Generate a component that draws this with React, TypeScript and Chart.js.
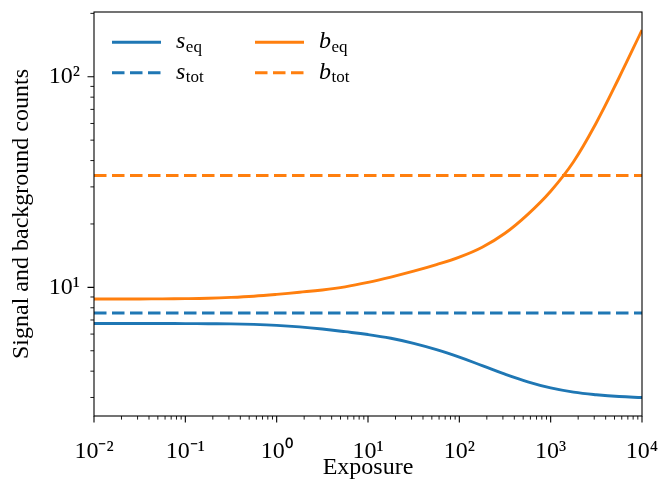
import React, { useEffect, useRef } from 'react';
import { Chart, registerables } from 'chart.js';

Chart.register(...registerables);

// ---- data ----
const exposure = [
  0.01, 0.0178, 0.0316, 0.0562, 0.1, 0.178, 0.316, 0.562, 1, 1.78, 3.16, 5.62, 10,
  17.8, 31.6, 56.2, 100, 178, 316, 562, 1000, 1780, 3160, 5620, 10000,
];
const sEq = [
  6.74, 6.74, 6.74, 6.74, 6.73, 6.72, 6.71, 6.67, 6.6, 6.49, 6.34, 6.16, 5.97,
  5.73, 5.42, 5.06, 4.66, 4.25, 3.87, 3.56, 3.33, 3.18, 3.09, 3.03, 3.0,
];
const bEq = [
  8.8, 8.8, 8.81, 8.82, 8.84, 8.88, 8.96, 9.08, 9.26, 9.48, 9.72, 10.06, 10.56,
  11.19, 11.93, 12.82, 13.92, 15.51, 18.06, 22.22, 28.62, 39.5, 60.5, 99.2, 166.7,
];
const sTotValue = 7.55;
const bTotValue = 34.0;
const xRange = [0.01, 10000];
const yRange = [2.45, 203];
const xMajorTicks = [0.01, 0.1, 1, 10, 100, 1000, 10000];
const xTickLabels = ['10⁻²', '10⁻¹', '10⁰', '10¹', '10²', '10³', '10⁴'];
const yMajorTicks = [10, 100];
const yTickLabels = ['10¹', '10²'];
const xTitle = 'Exposure';
const yTitle = 'Signal and background counts';

const BLUE = '#1f77b4';
const ORANGE = '#ff7f0e';
const DASH = [12.5, 5.5];
const FONT = '"Liberation Serif", "Times New Roman", serif';

const legendItems = [
  { main: 's', sub: 'eq', color: BLUE, dash: [] as number[], col: 0, row: 0 },
  { main: 's', sub: 'tot', color: BLUE, dash: DASH, col: 0, row: 1 },
  { main: 'b', sub: 'eq', color: ORANGE, dash: [] as number[], col: 1, row: 0 },
  { main: 'b', sub: 'tot', color: ORANGE, dash: DASH, col: 1, row: 1 },
];

function minorValues(min: number, max: number): number[] {
  const out: number[] = [];
  const lo = Math.floor(Math.log10(min));
  const hi = Math.ceil(Math.log10(max));
  for (let e = lo; e <= hi; e++) {
    for (let m = 2; m <= 9; m++) {
      const v = m * Math.pow(10, e);
      if (v >= min * 0.9999 && v <= max * 1.0001) out.push(v);
    }
  }
  return out;
}

const framePlugin = {
  id: 'frameAndTicks',
  afterDatasetsDraw(chart: any) {
    const { ctx, chartArea } = chart;
    const { left, right, top, bottom } = chartArea;
    const xs = chart.scales.x;
    const ys = chart.scales.y;
    ctx.save();
    ctx.strokeStyle = '#000';
    ctx.lineWidth = 1.1;
    ctx.setLineDash([]);
    ctx.strokeRect(left, top, right - left, bottom - top);
    const majLen = 6.5, minLen = 3.6;
    ctx.beginPath();
    xMajorTicks.forEach((v) => {
      const px = xs.getPixelForValue(v);
      ctx.moveTo(px, bottom);
      ctx.lineTo(px, bottom + majLen);
    });
    ctx.stroke();
    ctx.lineWidth = 0.9;
    ctx.beginPath();
    minorValues(xRange[0], xRange[1]).forEach((v) => {
      const px = xs.getPixelForValue(v);
      ctx.moveTo(px, bottom);
      ctx.lineTo(px, bottom + minLen);
    });
    ctx.stroke();
    ctx.lineWidth = 1.1;
    ctx.beginPath();
    yMajorTicks.forEach((v) => {
      const py = ys.getPixelForValue(v);
      ctx.moveTo(left, py);
      ctx.lineTo(left - majLen, py);
    });
    ctx.stroke();
    ctx.lineWidth = 0.9;
    ctx.beginPath();
    minorValues(yRange[0], yRange[1]).forEach((v) => {
      const py = ys.getPixelForValue(v);
      ctx.moveTo(left, py);
      ctx.lineTo(left - minLen, py);
    });
    ctx.stroke();

    // legend
    const lineLen = 49;
    const colX = [left + 18, left + 161];
    const rowY = [top + 30.3, top + 60.7];
    legendItems.forEach((it) => {
      const x0 = colX[it.col];
      const y0 = rowY[it.row];
      ctx.strokeStyle = it.color;
      ctx.lineWidth = 2.9;
      ctx.lineCap = 'butt';
      ctx.setLineDash(it.dash);
      ctx.beginPath();
      ctx.moveTo(x0, y0);
      ctx.lineTo(x0 + lineLen, y0);
      ctx.stroke();
      ctx.setLineDash([]);
      ctx.fillStyle = '#000';
      ctx.textBaseline = 'alphabetic';
      ctx.textAlign = 'left';
      ctx.font = `italic 24px ${FONT}`;
      const tx = x0 + 64;
      ctx.fillText(it.main, tx, y0 + 6);
      const w = ctx.measureText(it.main).width;
      ctx.font = `17px ${FONT}`;
      ctx.fillText(it.sub, tx + w + 0.5, y0 + 9.5);
    });
    ctx.restore();
  },
};

const zeroPad = (scale: any) => {
  scale.paddingTop = 0;
  scale.paddingBottom = 0;
  scale.paddingLeft = 0;
  scale.paddingRight = 0;
};

export default function App() {
  const ref = useRef<HTMLCanvasElement | null>(null);
  useEffect(() => {
    if (!ref.current) return;
    const pts = (ys: number[]) => exposure.map((x, i) => ({ x, y: ys[i] }));
    const flat = (v: number) => [
      { x: xRange[0], y: v },
      { x: xRange[1], y: v },
    ];
    const chart = new Chart(ref.current, {
      type: 'line',
      data: {
        datasets: [
          {
            label: 's_eq',
            data: pts(sEq),
            borderColor: BLUE,
            borderWidth: 2.9,
            pointRadius: 0,
            tension: 0.4,
            fill: false,
          },
          {
            label: 's_tot',
            data: flat(sTotValue),
            borderColor: BLUE,
            borderWidth: 2.9,
            borderDash: DASH,
            pointRadius: 0,
            fill: false,
          },
          {
            label: 'b_eq',
            data: pts(bEq),
            borderColor: ORANGE,
            borderWidth: 2.9,
            pointRadius: 0,
            tension: 0.4,
            fill: false,
          },
          {
            label: 'b_tot',
            data: flat(bTotValue),
            borderColor: ORANGE,
            borderWidth: 2.9,
            borderDash: DASH,
            pointRadius: 0,
            fill: false,
          },
        ],
      } as any,
      options: {
        animation: false,
        responsive: false,
        devicePixelRatio: 1,
        layout: { padding: { top: 12, right: 28, left: 0, bottom: 0 } },
        plugins: {
          legend: { display: false },
          tooltip: { enabled: false },
        },
        scales: {
          x: {
            type: 'logarithmic',
            min: xRange[0],
            max: xRange[1],
            grid: { display: false, drawTicks: false },
            border: { display: false },
            afterBuildTicks: (scale: any) => {
              scale.ticks = xMajorTicks.map((v) => ({ value: v, major: true }));
            },
            afterFit: (scale: any) => {
              scale.height = 63;
              zeroPad(scale);
            },
            ticks: {
              autoSkip: false,
              maxRotation: 0,
              minRotation: 0,
              padding: 21,
              color: '#000',
              font: { family: FONT, size: 24 },
              callback: (value: any) => {
                const i = xMajorTicks.findIndex((t) => Math.abs(t - Number(value)) / t < 1e-6);
                return i >= 0 ? xTickLabels[i] : '';
              },
            },
            title: {
              display: true,
              text: xTitle,
              color: '#000',
              font: { family: FONT, size: 24 },
              padding: { top: 0, bottom: -3 },
            },
          },
          y: {
            type: 'logarithmic',
            min: yRange[0],
            max: yRange[1],
            grid: { display: false, drawTicks: false },
            border: { display: false },
            afterBuildTicks: (scale: any) => {
              scale.ticks = yMajorTicks.map((v) => ({ value: v, major: true }));
            },
            afterFit: (scale: any) => {
              scale.width = 94;
              zeroPad(scale);
            },
            ticks: {
              autoSkip: false,
              padding: 14,
              color: '#000',
              font: { family: FONT, size: 24 },
              callback: (value: any) => {
                const i = yMajorTicks.findIndex((t) => Math.abs(t - Number(value)) / t < 1e-6);
                return i >= 0 ? yTickLabels[i] : '';
              },
            },
            title: {
              display: true,
              text: yTitle,
              color: '#000',
              font: { family: FONT, size: 24 },
              padding: { top: 7, bottom: 0 },
            },
          },
        },
      } as any,
      plugins: [framePlugin],
    });
    return () => chart.destroy();
  }, []);

  return (
    <div style={{ position: 'absolute', left: 0, top: 0, width: 670, height: 479, background: '#fff' }}>
      <canvas ref={ref} width={670} height={479} style={{ display: 'block', width: 670, height: 479 }} />
    </div>
  );
}
